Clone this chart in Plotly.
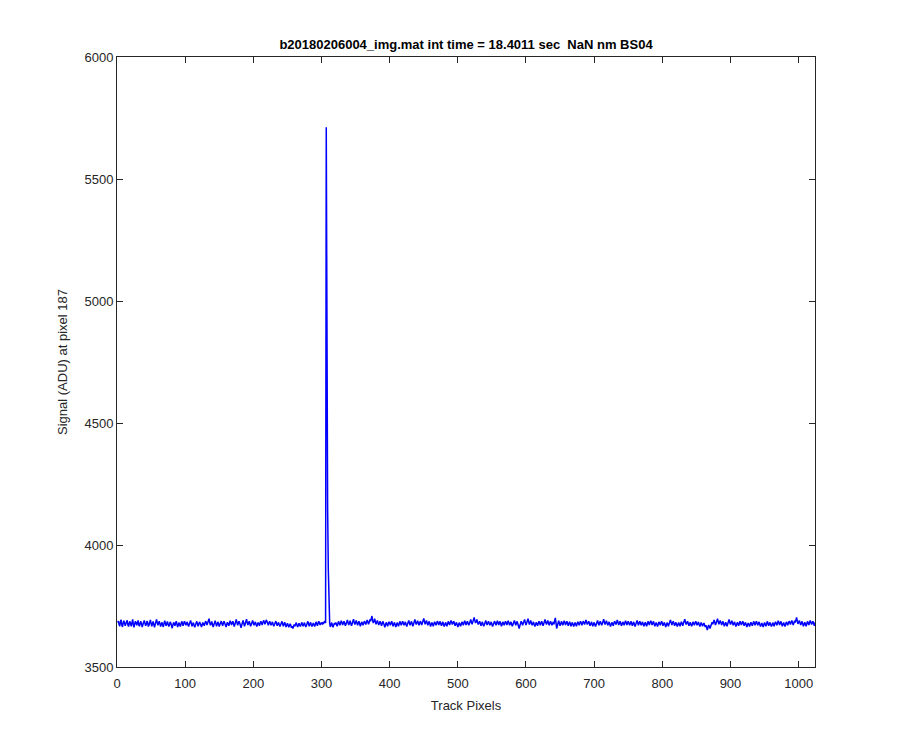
import plotly.graph_objects as go

title_text = "b20180206004_img.mat int time = 18.4011 sec  NaN nm BS04"
x_label = "Track Pixels"
y_label = "Signal (ADU) at pixel 187"
x_ticks = [0, 100, 200, 300, 400, 500, 600, 700, 800, 900, 1000]
y_ticks = [3500, 4000, 4500, 5000, 5500, 6000]

signal_001_128 = [
    3682, 3688, 3675, 3667, 3687, 3693, 3674, 3664, 3679, 3690, 3682, 3669, 3677, 3685, 3691, 3672,
    3666, 3680, 3687, 3675, 3667, 3683, 3695, 3674, 3663, 3677, 3688, 3680, 3671, 3682, 3691, 3672,
    3667, 3679, 3687, 3677, 3664, 3674, 3685, 3691, 3680, 3669, 3675, 3688, 3682, 3666, 3672, 3683,
    3693, 3679, 3667, 3677, 3687, 3675, 3663, 3674, 3685, 3695, 3682, 3671, 3679, 3688, 3677, 3666,
    3675, 3683, 3672, 3664, 3679, 3690, 3680, 3669, 3677, 3687, 3675, 3666, 3674, 3685, 3679, 3667,
    3659, 3672, 3683, 3677, 3669, 3680, 3688, 3675, 3664, 3674, 3682, 3672, 3666, 3677, 3687, 3679,
    3669, 3679, 3688, 3680, 3671, 3677, 3685, 3674, 3666, 3675, 3683, 3691, 3679, 3667, 3674, 3682,
    3672, 3663, 3671, 3680, 3687, 3677, 3667, 3675, 3685, 3679, 3671, 3664, 3674, 3682, 3675, 3669,
]
signal_129_256 = [
    3679, 3688, 3682, 3672, 3680, 3691, 3698, 3683, 3671, 3677, 3687, 3675, 3664, 3672, 3683, 3690,
    3679, 3667, 3675, 3685, 3677, 3666, 3674, 3682, 3688, 3677, 3669, 3679, 3687, 3680, 3672, 3664,
    3674, 3683, 3677, 3669, 3679, 3690, 3682, 3672, 3680, 3688, 3677, 3666, 3675, 3685, 3695, 3682,
    3671, 3679, 3688, 3680, 3669, 3661, 3672, 3683, 3691, 3679, 3667, 3675, 3687, 3696, 3683, 3672,
    3679, 3688, 3677, 3667, 3674, 3683, 3691, 3680, 3671, 3677, 3685, 3675, 3666, 3674, 3682, 3677,
    3669, 3679, 3687, 3680, 3672, 3682, 3691, 3685, 3675, 3683, 3693, 3687, 3677, 3671, 3680, 3688,
    3679, 3671, 3677, 3685, 3675, 3667, 3674, 3682, 3688, 3679, 3669, 3675, 3683, 3674, 3666, 3672,
    3680, 3687, 3677, 3667, 3675, 3683, 3674, 3664, 3671, 3679, 3672, 3663, 3669, 3677, 3671, 3661,
]
signal_257_384 = [
    3667, 3658, 3666, 3674, 3667, 3675, 3682, 3672, 3664, 3671, 3679, 3672, 3666, 3674, 3683, 3675,
    3667, 3674, 3682, 3672, 3664, 3671, 3679, 3687, 3677, 3667, 3675, 3683, 3674, 3666, 3672, 3680,
    3674, 3666, 3675, 3685, 3677, 3669, 3679, 3687, 3680, 3672, 3682, 3675, 3683, 3677, 3680, 3685,
    3682, 3683, 5712, 4600, 4150, 3900, 3760, 3679, 3664, 3674, 3682, 3671, 3663, 3672, 3680, 3675,
    3682, 3674, 3667, 3677, 3687, 3679, 3671, 3680, 3690, 3682, 3672, 3679, 3688, 3680, 3669, 3675,
    3685, 3693, 3682, 3672, 3680, 3690, 3679, 3669, 3677, 3687, 3696, 3683, 3674, 3682, 3691, 3680,
    3671, 3679, 3688, 3677, 3667, 3675, 3685, 3679, 3671, 3680, 3688, 3682, 3674, 3683, 3693, 3685,
    3675, 3683, 3695, 3687, 3698, 3709, 3691, 3680, 3688, 3698, 3685, 3675, 3683, 3691, 3680, 3672,
]
signal_385_512 = [
    3680, 3688, 3679, 3669, 3677, 3687, 3680, 3671, 3663, 3674, 3683, 3675, 3667, 3677, 3685, 3679,
    3671, 3680, 3688, 3677, 3667, 3675, 3683, 3674, 3664, 3672, 3682, 3675, 3667, 3677, 3687, 3679,
    3671, 3679, 3688, 3680, 3671, 3677, 3685, 3675, 3666, 3674, 3683, 3691, 3680, 3671, 3679, 3687,
    3677, 3667, 3675, 3685, 3695, 3683, 3674, 3682, 3690, 3680, 3671, 3679, 3688, 3682, 3672, 3680,
    3690, 3699, 3687, 3675, 3682, 3691, 3680, 3671, 3679, 3687, 3677, 3666, 3674, 3682, 3675, 3667,
    3677, 3685, 3679, 3671, 3680, 3688, 3682, 3672, 3679, 3687, 3677, 3669, 3677, 3685, 3675, 3666,
    3674, 3683, 3675, 3667, 3677, 3687, 3680, 3672, 3682, 3691, 3683, 3674, 3680, 3688, 3679, 3669,
    3675, 3683, 3674, 3664, 3672, 3682, 3675, 3667, 3675, 3685, 3679, 3671, 3680, 3690, 3682, 3672,
]
signal_513_640 = [
    3679, 3688, 3680, 3671, 3677, 3687, 3695, 3683, 3675, 3685, 3693, 3703, 3690, 3680, 3687, 3695,
    3683, 3674, 3680, 3688, 3679, 3669, 3677, 3685, 3675, 3667, 3674, 3683, 3691, 3680, 3672, 3680,
    3688, 3679, 3671, 3677, 3685, 3675, 3666, 3674, 3682, 3688, 3679, 3671, 3680, 3690, 3682, 3672,
    3679, 3687, 3677, 3667, 3675, 3685, 3679, 3671, 3680, 3688, 3680, 3672, 3682, 3690, 3680, 3671,
    3677, 3685, 3675, 3667, 3675, 3683, 3691, 3680, 3671, 3679, 3687, 3677, 3666, 3658, 3669, 3679,
    3688, 3680, 3671, 3679, 3688, 3695, 3682, 3672, 3680, 3690, 3698, 3685, 3674, 3682, 3691, 3680,
    3671, 3677, 3685, 3675, 3666, 3674, 3683, 3677, 3669, 3679, 3687, 3680, 3671, 3679, 3688, 3679,
    3669, 3677, 3687, 3695, 3683, 3674, 3682, 3691, 3680, 3671, 3679, 3688, 3680, 3671, 3677, 3685,
]
signal_641_768 = [
    3675, 3690, 3701, 3682, 3658, 3669, 3680, 3690, 3679, 3669, 3677, 3687, 3679, 3671, 3680, 3690,
    3682, 3672, 3679, 3688, 3679, 3669, 3677, 3685, 3677, 3667, 3675, 3683, 3674, 3666, 3674, 3682,
    3675, 3667, 3677, 3685, 3679, 3671, 3680, 3688, 3680, 3671, 3679, 3688, 3682, 3674, 3683, 3693,
    3683, 3674, 3680, 3688, 3679, 3669, 3675, 3685, 3677, 3667, 3675, 3683, 3674, 3666, 3674, 3683,
    3691, 3680, 3671, 3679, 3688, 3680, 3671, 3677, 3687, 3696, 3683, 3674, 3682, 3690, 3680, 3671,
    3677, 3685, 3675, 3666, 3674, 3683, 3677, 3669, 3679, 3688, 3682, 3674, 3683, 3693, 3682, 3672,
    3679, 3688, 3679, 3669, 3675, 3685, 3679, 3671, 3680, 3690, 3682, 3672, 3679, 3688, 3680, 3671,
    3677, 3687, 3679, 3669, 3677, 3685, 3675, 3666, 3674, 3683, 3691, 3680, 3671, 3679, 3688, 3680,
]
signal_769_896 = [
    3671, 3677, 3685, 3675, 3667, 3675, 3683, 3675, 3667, 3677, 3687, 3680, 3672, 3682, 3690, 3682,
    3672, 3679, 3687, 3677, 3667, 3674, 3682, 3674, 3666, 3675, 3685, 3679, 3671, 3680, 3688, 3679,
    3669, 3675, 3683, 3674, 3664, 3672, 3682, 3675, 3667, 3677, 3687, 3693, 3682, 3672, 3680, 3688,
    3679, 3669, 3675, 3683, 3674, 3666, 3674, 3682, 3675, 3667, 3677, 3685, 3677, 3669, 3679, 3688,
    3696, 3683, 3674, 3680, 3688, 3679, 3669, 3675, 3683, 3675, 3667, 3675, 3685, 3679, 3671, 3680,
    3688, 3680, 3671, 3677, 3685, 3675, 3666, 3674, 3682, 3675, 3667, 3674, 3680, 3672, 3664, 3671,
    3661, 3651, 3663, 3672, 3666, 3658, 3667, 3677, 3683, 3675, 3685, 3693, 3682, 3672, 3680, 3690,
    3698, 3685, 3675, 3683, 3691, 3682, 3672, 3679, 3687, 3677, 3667, 3675, 3683, 3675, 3667, 3677,
]
signal_897_1024 = [
    3687, 3695, 3683, 3674, 3682, 3690, 3680, 3671, 3677, 3685, 3675, 3666, 3674, 3683, 3677, 3669,
    3679, 3687, 3680, 3672, 3680, 3688, 3679, 3669, 3675, 3683, 3674, 3664, 3672, 3680, 3674, 3666,
    3675, 3683, 3677, 3669, 3677, 3687, 3680, 3671, 3679, 3688, 3680, 3671, 3677, 3685, 3675, 3666,
    3672, 3680, 3672, 3664, 3674, 3682, 3675, 3667, 3677, 3687, 3679, 3669, 3675, 3683, 3674, 3666,
    3672, 3682, 3675, 3667, 3677, 3685, 3679, 3671, 3680, 3690, 3682, 3672, 3679, 3687, 3677, 3667,
    3674, 3682, 3674, 3666, 3675, 3685, 3679, 3671, 3680, 3688, 3682, 3674, 3683, 3691, 3682, 3672,
    3680, 3690, 3682, 3691, 3703, 3688, 3677, 3683, 3691, 3682, 3672, 3679, 3687, 3677, 3667, 3675,
    3683, 3675, 3667, 3677, 3687, 3680, 3672, 3682, 3691, 3683, 3674, 3680, 3688, 3679, 3669, 3682,
]

signal = (signal_001_128 + signal_129_256 + signal_257_384 + signal_385_512
          + signal_513_640 + signal_641_768 + signal_769_896 + signal_897_1024)
pixels = list(range(1, len(signal) + 1))

axis_color = "#262626"
font_family = "Liberation Sans, Arial, sans-serif"

fig = go.Figure()
fig.add_trace(go.Scatter(
    x=pixels, y=signal, mode="lines",
    line=dict(color="#0000ff", width=1.5),
    showlegend=False, hoverinfo="skip",
))

common = dict(
    showgrid=False, zeroline=False, showline=True, linecolor=axis_color, linewidth=1,
    mirror="ticks", ticks="inside", ticklen=6, tickcolor=axis_color, tickwidth=1,
    tickfont=dict(family=font_family, size=13, color=axis_color),
)

fig.update_layout(
    width=900, height=750,
    paper_bgcolor="white", plot_bgcolor="white",
    margin=dict(l=109, r=93, t=49, b=91),
    font=dict(family=font_family, size=13, color=axis_color),
    title=dict(
        text="<b>" + title_text + "</b>",
        x=0.5, xref="paper", xanchor="center",
        y=1 - 36 / 750, yref="container", yanchor="middle",
        font=dict(family=font_family, size=13, color="black"),
    ),
    xaxis=dict(
        range=[0, 1024], tickvals=x_ticks, ticktext=[str(v) for v in x_ticks],
        ticklabelstandoff=4,
        title=dict(text=x_label, font=dict(family=font_family, size=13, color=axis_color), standoff=11),
        **common,
    ),
    yaxis=dict(
        range=[3500, 6000], tickvals=y_ticks, ticktext=[str(v) for v in y_ticks],
        title=dict(text=y_label, font=dict(family=font_family, size=13, color=axis_color), standoff=13),
        **common,
    ),
)

fig.write_html("out.html")
